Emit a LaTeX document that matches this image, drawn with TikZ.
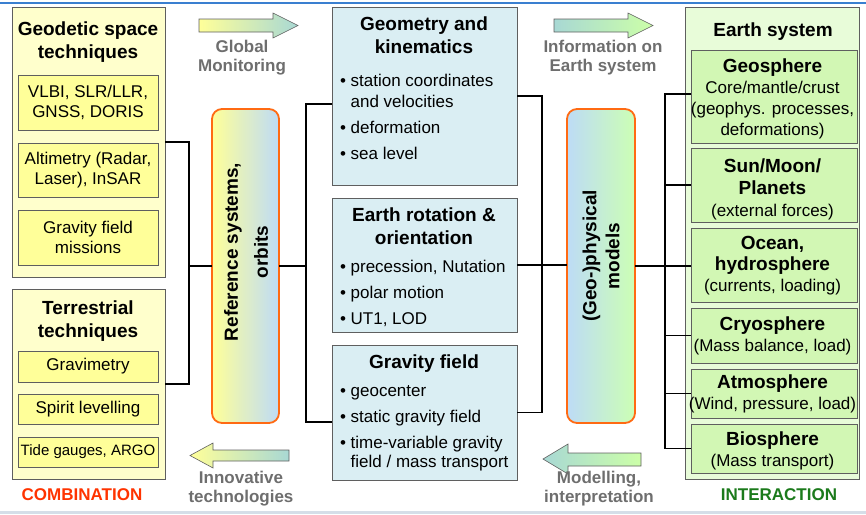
\documentclass[tikz,border=0pt]{standalone}
\usepackage{xcolor}
\usepackage{fontspec}
\setmainfont{Liberation Sans}
\usetikzlibrary{positioning,calc}

\definecolor{techfill}{HTML}{FFFFCC}
\definecolor{techinner}{HTML}{FFFF99}
\definecolor{resultfill}{HTML}{DAEEF3}
\definecolor{earthfill}{HTML}{E8FCD9}
\definecolor{spherefill}{HTML}{D2F7B4}
\definecolor{boxline}{HTML}{5F5F5F}
\definecolor{barline}{HTML}{FF6A13}
\definecolor{baryellow}{HTML}{FFFF99}
\definecolor{barblue}{HTML}{BDDBF6}
\definecolor{bargreen}{HTML}{CCFFB4}
\definecolor{arrowteal}{HTML}{A8D8D4}
\definecolor{arrowgreen}{HTML}{CCFFA8}
\definecolor{labelgrey}{HTML}{6E6E6E}
\definecolor{combred}{HTML}{FF3300}
\definecolor{interactgreen}{HTML}{1B7A1B}
\definecolor{topblue}{HTML}{3A7FD0}
\definecolor{bottomgrey}{HTML}{D5DEE8}

\tikzset{
  every node/.style={inner sep=0pt, outer sep=0pt},
  outerbox/.style={draw=boxline, line width=0.8pt},
  techbox/.style={draw=boxline, fill=techinner, line width=0.8pt, minimum width=140pt, align=center, font=\fontsize{17}{19.5}\selectfont},
  resultbox/.style={draw=boxline, fill=resultfill, line width=0.8pt, minimum width=185pt},
  spherebox/.style={draw=boxline, fill=spherefill, line width=0.8pt, minimum width=166pt},
  titletext/.style={align=center, font=\fontsize{19}{23}\selectfont\bfseries},
  listtext/.style={anchor=north west, align=left, font=\fontsize{17}{21}\selectfont},
  spheretext/.style={align=center, font=\fontsize{17}{21}\selectfont},
  refbar/.style={draw=barline, line width=1.8pt, rounded corners=10pt, minimum width=67pt, minimum height=314pt},
  bartext/.style={rotate=90, align=center, font=\fontsize{19}{30}\selectfont\bfseries},
  blockarrow/.style={draw=boxline, line width=0.6pt},
  arrowlabel/.style={align=center, text=labelgrey, font=\fontsize{17}{19}\selectfont\bfseries},
  footlabel/.style={font=\fontsize{17}{19}\selectfont\bfseries},
  conn/.style={draw=black, line width=1.8pt},
}

\begin{document}
\begin{tikzpicture}[x=1pt, y=-1pt]
\useasboundingbox (0,0) rectangle (866,514);
\draw[topblue, line width=2pt] (0,2.5) -- (866,2.5);
\draw[bottomgrey, line width=3pt] (0,512) -- (866,512);

% Geodetic space techniques
\node[outerbox, fill=techfill, minimum width=153pt, minimum height=270pt] (geodetic) at (88.5,142) {};
\node[titletext] (geodeticT) at (88,42.4) {Geodetic space\\techniques};
\node[techbox, minimum height=55pt] (vlbi) at (88,102.5) {VLBI, SLR/LLR,\\GNSS, DORIS};
\node[techbox, minimum height=54pt] (altim) at (88,170) {Altimetry (Radar,\\Laser), InSAR};
\node[techbox, minimum height=55pt] (gravmis) at (88,237.5) {Gravity field\\missions};

% Terrestrial techniques
\node[outerbox, fill=techfill, minimum width=153pt, minimum height=190pt] (terr) at (88.5,384) {};
\node[titletext] (terrT) at (88,321.5) {Terrestrial\\techniques};
\node[techbox, minimum height=31pt] (gravim) at (88,366.5) {Gravimetry};
\node[techbox, minimum height=30pt] (spirit) at (88,409) {Spirit levelling};
\node[techbox, minimum height=30pt, font=\fontsize{15}{17}\selectfont] (tide) at (88,452) {Tide gauges, ARGO};
\node[footlabel, text=combred] (comb) at (82,495) {COMBINATION};

% Reference systems
\node[refbar, left color=baryellow, right color=barblue] (refsys) at (245.5,266) {};
\node[bartext] (refsysT) at (246,252) {Reference systems,\\orbits};

% Geometry and kinematics
\node[resultbox, minimum height=178pt] (geom) at (424.5,96) {};
\node[titletext] (geomT) at (424,35.3) {Geometry and\\kinematics};
\node[listtext] (geomL) at (340,73.8) {\textbullet\ station coordinates\\\hphantom{\textbullet\ }and velocities\\[5pt]\textbullet\ deformation\\[5pt]\textbullet\ sea level};

% Earth rotation
\node[resultbox, minimum height=134pt] (rot) at (424.5,265) {};
\node[titletext] (rotT) at (424,225.8) {Earth rotation \&\\orientation};
\node[listtext] (rotL) at (340,260) {\textbullet\ precession, Nutation\\[5pt]\textbullet\ polar motion\\[5pt]\textbullet\ UT1, LOD};

% Gravity field
\node[resultbox, minimum height=135pt] (grav) at (424.5,412.5) {};
\node[titletext] (gravT) at (424,363.5) {Gravity field};
\node[listtext] (gravL) at (340,385.2) {\textbullet\ geocenter\\[5pt]\textbullet\ static gravity field\\[5pt]\textbullet\ time-variable gravity\\[-2pt]\hphantom{\textbullet\ }field / mass transport};

% Models
\node[refbar, minimum width=68pt, left color=barblue, right color=bargreen] (models) at (601,266) {};
\node[bartext, font=\fontsize{19}{23}\selectfont\bfseries] (modelsT) at (601,256) {(Geo-)physical\\models};

% Earth system
\node[outerbox, fill=earthfill, minimum width=174pt, minimum height=472pt] (earth) at (772,243) {};
\node[titletext] (earthT) at (773,31.8) {Earth system};
\node[spherebox, minimum height=93pt] (geo) at (774,96.5) {};
\node[spheretext] (geoT) at (772.5,98.6) {{\bfseries\fontsize{19}{21}\selectfont Geosphere}\\Core/mantle/crust\\(geophys. processes,\\deformations)};
\node[spherebox, minimum height=74pt] (sun) at (774,185) {};
\node[spheretext, font=\fontsize{17}{22}\selectfont] (sunT) at (772.5,189.5) {{\bfseries\fontsize{19}{22}\selectfont Sun/Moon/}\\{\bfseries\fontsize{19}{22}\selectfont Planets}\\(external forces)};
\node[spherebox, minimum height=74pt] (ocean) at (774,265) {};
\node[spheretext] (oceanT) at (772.5,265.8) {{\bfseries\fontsize{19}{21}\selectfont Ocean,}\\{\bfseries\fontsize{19}{21}\selectfont hydrosphere}\\(currents, loading)};
\node[spherebox, minimum height=55pt] (cryo) at (774,335.5) {};
\node[spheretext] (cryoT) at (772.5,335.8) {{\bfseries\fontsize{19}{21}\selectfont Cryosphere}\\(Mass balance, load)};
\node[spherebox, minimum height=49pt] (atmo) at (774,393.5) {};
\node[spheretext] (atmoT) at (772.5,393.8) {{\bfseries\fontsize{19}{21}\selectfont Atmosphere}\\(Wind, pressure, load)};
\node[spherebox, minimum height=49pt] (bio) at (774,448.5) {};
\node[spheretext] (bioT) at (772.5,450.8) {{\bfseries\fontsize{19}{21}\selectfont Biosphere}\\(Mass transport)};
\node[footlabel, text=interactgreen] (interact) at (779,495) {INTERACTION};

% Flow arrows
\path[blockarrow, left color=baryellow, right color=arrowteal] (199,19) -- (273,19) -- (273,13) -- (298,25.5) -- (273,38) -- (273,32) -- (199,32) -- cycle;
\node[arrowlabel] (monitorL) at (242,58) {Global\\Monitoring};
\path[blockarrow, left color=arrowteal, right color=arrowgreen] (554,19) -- (628,19) -- (628,13) -- (653,25.5) -- (628,38) -- (628,32) -- (554,32) -- cycle;
\node[arrowlabel] (infoL) at (603,58) {Information on\\Earth system};
\path[blockarrow, left color=baryellow, right color=arrowteal] (190,455.5) -- (213,443) -- (213,450) -- (289,450) -- (289,461) -- (213,461) -- (213,468) -- cycle;
\node[arrowlabel] (innovL) at (241,489) {Innovative\\technologies};
\path[blockarrow, left color=arrowteal, right color=arrowgreen] (543,459) -- (568,444) -- (568,453) -- (641,453) -- (641,466) -- (568,466) -- (568,474) -- cycle;
\node[arrowlabel] (modelL) at (599,489) {Modelling,\\interpretation};

% Connections
\coordinate (techjoin) at (189,266);
\draw[conn] (geodetic.east) -| (techjoin) |- (terr.east);
\draw[conn] (techjoin) -- (refsys.west);

\coordinate (refjoin) at (306,266);
\draw[conn] (refsys.east) -- (refjoin);
\draw[conn] ([yshift=-8pt]geom.west) -| (refjoin) |- ([yshift=-9.5pt]grav.west);

\coordinate (resjoin) at (542,266);
\draw[conn] (geom.east) -| (resjoin) |- (grav.east);
\draw[conn] (rot.east) -- (rot.east -| models.west);

\coordinate (earthjoin) at (665,266);
\draw[conn] (models.east) -- (earthjoin);
\draw[conn] ([yshift=2.5pt]geo.west) -| (earthjoin) |- (bio.west);
\draw[conn] (earthjoin |- sun.west) -- (sun.west);
\draw[conn] (earthjoin) -- (earthjoin -| ocean.west);
\draw[conn] (earthjoin |- cryo.west) -- (cryo.west);
\draw[conn] (earthjoin |- atmo.west) -- (atmo.west);

\end{tikzpicture}
\end{document}
